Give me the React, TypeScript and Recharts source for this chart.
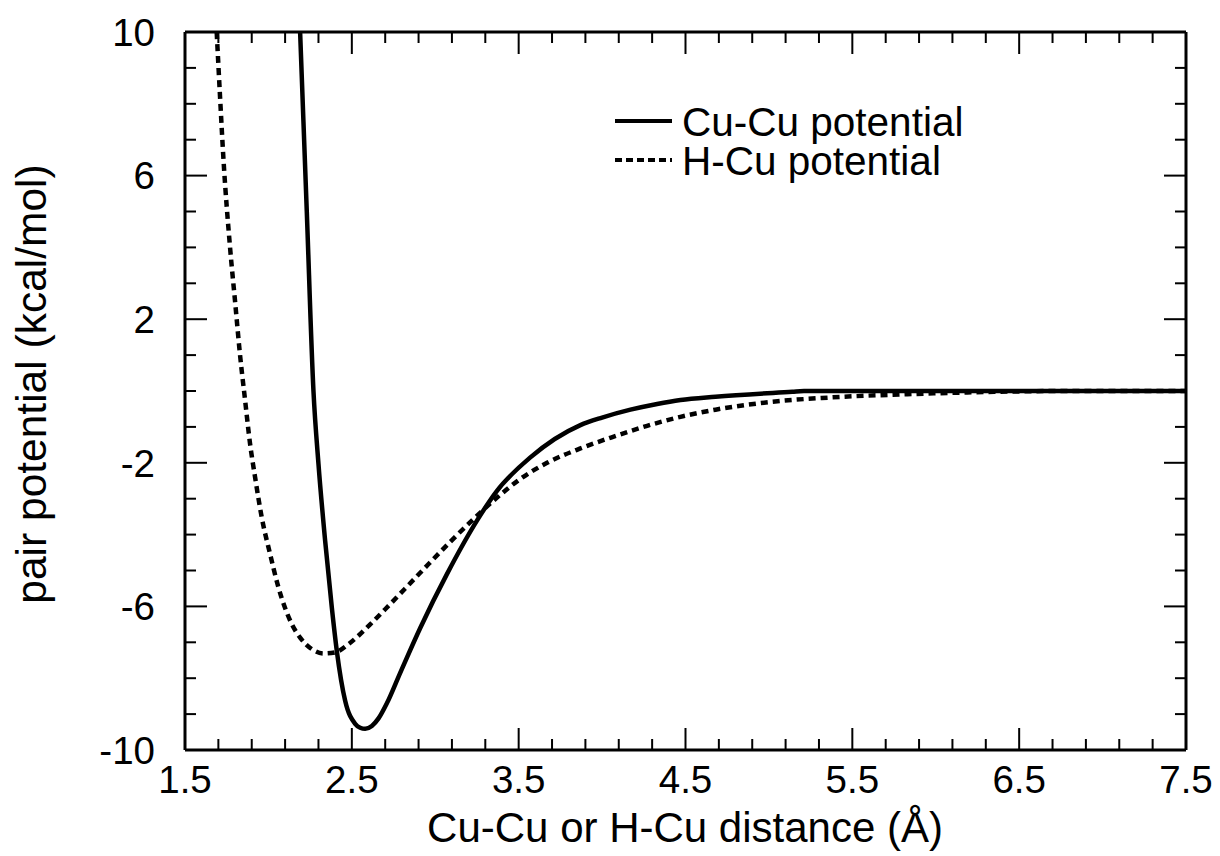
import React from 'react';
import { LineChart, Line, XAxis, YAxis, Legend, Label } from 'recharts';

const FONT = '"Liberation Sans", Arial, Helvetica, sans-serif';

// Cu-Cu pair potential (solid curve)
const cuCuDistance = [
    2.19, 2.23, 2.27, 2.3, 2.34, 2.38, 2.41, 2.46, 2.52, 2.55, 2.58, 2.62, 2.66, 2.71, 2.79,
    2.91, 3.07, 3.25, 3.37, 3.57, 3.87, 4.0, 4.17, 4.33, 4.47, 4.68, 5.14, 5.21, 7.5,
];
const cuCuEnergy = [
    10, 5.0, 0.0, -2.03, -4.17, -6.03, -7.24, -8.63, -9.27, -9.38, -9.41, -9.33, -9.12, -8.7, -7.85,
    -6.6, -5.1, -3.61, -2.78, -1.85, -0.95, -0.74, -0.52, -0.36, -0.25, -0.16, -0.02, 0, 0,
];

// H-Cu pair potential (dashed curve)
const hCuDistance = [
    1.69, 1.71, 1.73, 1.77, 1.8, 1.83, 1.86, 1.89, 1.92, 1.96, 2.01, 2.06, 2.14, 2.19,
    2.26, 2.33, 2.4, 2.48, 2.61, 2.7, 2.82, 2.96, 3.09, 3.24, 3.37, 3.51, 3.67, 3.87,
    4.07, 4.27, 4.47, 4.68, 5.02, 5.37, 5.83, 6.29, 6.75, 7.5,
];
const hCuEnergy = [
    10, 8.2, 6.5, 4.0, 2.5, 1.0, -0.25, -1.47, -2.4, -3.52, -4.54, -5.47, -6.49, -6.87,
    -7.19, -7.31, -7.28, -7.05, -6.5, -6.08, -5.5, -4.82, -4.2, -3.52, -2.97, -2.45, -2.0, -1.6,
    -1.27, -0.97, -0.72, -0.52, -0.3, -0.18, -0.09, -0.03, 0, 0,
];

// axis ticks
const xTicks = [
    1.5, 1.7, 1.9, 2.1, 2.3, 2.5, 2.7, 2.9, 3.1, 3.3, 3.5, 3.7, 3.9, 4.1, 4.3, 4.5,
    4.7, 4.9, 5.1, 5.3, 5.5, 5.7, 5.9, 6.1, 6.3, 6.5, 6.7, 6.9, 7.1, 7.3, 7.5,
];
const xMajorTicks = [1.5, 2.5, 3.5, 4.5, 5.5, 6.5, 7.5];
const yTicks = [-10, -9, -8, -7, -6, -5, -4, -3, -2, -1, 0, 1, 2, 3, 4, 5, 6, 7, 8, 9, 10];
const yMajorTicks = [-10, -6, -2, 2, 6, 10];

const seriesNames = ['Cu-Cu potential', 'H-Cu potential'];

const cuCuData = cuCuDistance.map((x, i) => ({ x, y: cuCuEnergy[i] }));
const hCuData = hCuDistance.map((x, i) => ({ x, y: hCuEnergy[i] }));

const isMajor = (v: number, majors: number[]) => majors.some((m) => Math.abs(m - v) < 1e-6);

const MAJOR = 22;
const MINOR = 11;

const BottomTick = ({ x, y, payload }: any) => {
    const major = isMajor(payload.value, xMajorTicks);
    return (
        <g>
            <line x1={x} y1={y} x2={x} y2={y - (major ? MAJOR : MINOR)} stroke="#000" strokeWidth={2} />
            {major && (
                <text x={x} y={y + 43} textAnchor="middle" fontSize={38.5} fontFamily={FONT} fill="#000">
                    {payload.value.toFixed(1)}
                </text>
            )}
        </g>
    );
};

const TopTick = ({ x, y, payload }: any) => {
    const major = isMajor(payload.value, xMajorTicks);
    return <line x1={x} y1={y} x2={x} y2={y + (major ? MAJOR : MINOR)} stroke="#000" strokeWidth={2} />;
};

const LeftTick = ({ x, y, payload }: any) => {
    const major = isMajor(payload.value, yMajorTicks);
    return (
        <g>
            <line x1={x} y1={y} x2={x + (major ? MAJOR : MINOR)} y2={y} stroke="#000" strokeWidth={2} />
            {major && (
                <text x={x - 30} y={y} dy="0.36em" textAnchor="end" fontSize={38.5} fontFamily={FONT} fill="#000">
                    {payload.value}
                </text>
            )}
        </g>
    );
};

const RightTick = ({ x, y, payload }: any) => {
    const major = isMajor(payload.value, yMajorTicks);
    return <line x1={x} y1={y} x2={x - (major ? MAJOR : MINOR)} y2={y} stroke="#000" strokeWidth={2} />;
};

// legend rows share one text block so the tight line spacing of the original is kept
const LegendBox = ({ payload }: any) => {
    const items = payload && payload.length ? payload : seriesNames.map((value) => ({ value }));
    const rowY = (i: number) => 26 + i * 39;
    return (
        <svg width={400} height={100}>
            {items.map((entry: any, i: number) => (
                <line
                    key={entry.value}
                    x1={10}
                    y1={rowY(i)}
                    x2={67}
                    y2={rowY(i)}
                    stroke="#000"
                    strokeWidth={4}
                    strokeDasharray={i === 1 ? '7 4' : undefined}
                />
            ))}
            <text fontSize={40.5} fontFamily={FONT} fill="#000">
                {items.map((entry: any, i: number) => (
                    <tspan key={entry.value} x={77} y={rowY(i) + 15}>
                        {entry.value}
                    </tspan>
                ))}
            </text>
        </svg>
    );
};

export default function App() {
    return (
        <div style={{ position: 'absolute', left: 0, top: 0, background: '#fff' }}>
            <LineChart width={1220} height={856} margin={{ top: 31, right: 33, left: 184, bottom: 105 }}>
                <XAxis
                    xAxisId="bottom"
                    dataKey="x"
                    type="number"
                    orientation="bottom"
                    domain={[1.5, 7.5]}
                    ticks={xTicks}
                    interval={0}
                    height={1}
                    tickSize={0}
                    tickMargin={0}
                    tickLine={false}
                    tick={<BottomTick />}
                    axisLine={{ stroke: '#000', strokeWidth: 3 }}
                    allowDataOverflow
                >
                    <Label
                        content={() => (
                            <text x={685} y={842} textAnchor="middle" fontSize={42} fontFamily={FONT} fill="#000">
                                Cu-Cu or H-Cu distance (Å)
                            </text>
                        )}
                    />
                </XAxis>
                <XAxis
                    xAxisId="top"
                    dataKey="x"
                    type="number"
                    orientation="top"
                    domain={[1.5, 7.5]}
                    ticks={xTicks}
                    interval={0}
                    height={1}
                    tickSize={0}
                    tickMargin={0}
                    tickLine={false}
                    tick={<TopTick />}
                    axisLine={{ stroke: '#000', strokeWidth: 3 }}
                    allowDataOverflow
                />
                <YAxis
                    yAxisId="left"
                    type="number"
                    orientation="left"
                    domain={[-10, 10]}
                    ticks={yTicks}
                    interval={0}
                    width={1}
                    tickSize={0}
                    tickMargin={0}
                    tickLine={false}
                    tick={<LeftTick />}
                    axisLine={{ stroke: '#000', strokeWidth: 3 }}
                    allowDataOverflow
                >
                    <Label
                        content={() => (
                            <text
                                x={46}
                                y={384}
                                transform="rotate(-90, 46, 384)"
                                textAnchor="middle"
                                fontSize={42.5}
                                fontFamily={FONT}
                                fill="#000"
                            >
                                pair potential (kcal/mol)
                            </text>
                        )}
                    />
                </YAxis>
                <YAxis
                    yAxisId="right"
                    type="number"
                    orientation="right"
                    domain={[-10, 10]}
                    ticks={yTicks}
                    interval={0}
                    width={1}
                    tickSize={0}
                    tickMargin={0}
                    tickLine={false}
                    tick={<RightTick />}
                    axisLine={{ stroke: '#000', strokeWidth: 3 }}
                    allowDataOverflow
                />

                {/* Cu-Cu – solid */}
                <Line
                    xAxisId="bottom"
                    yAxisId="left"
                    data={cuCuData}
                    dataKey="y"
                    name={seriesNames[0]}
                    type="monotone"
                    stroke="#000"
                    strokeWidth={4.5}
                    dot={false}
                    activeDot={false}
                    isAnimationActive={false}
                />
                {/* H-Cu – dashed */}
                <Line
                    xAxisId="bottom"
                    yAxisId="left"
                    data={hCuData}
                    dataKey="y"
                    name={seriesNames[1]}
                    type="monotone"
                    stroke="#000"
                    strokeWidth={4.5}
                    strokeDasharray="7 5"
                    dot={false}
                    activeDot={false}
                    isAnimationActive={false}
                />

                <Legend
                    layout="vertical"
                    align="center"
                    verticalAlign="middle"
                    width={400}
                    height={100}
                    wrapperStyle={{ top: 95, left: 605 }}
                    content={<LegendBox />}
                />
            </LineChart>
        </div>
    );
}
